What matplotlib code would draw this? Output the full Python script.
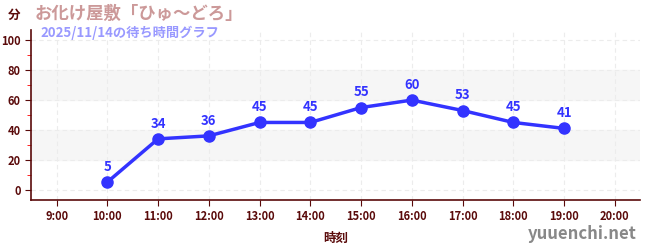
import numpy as np
import matplotlib
matplotlib.use("Agg")
import matplotlib.pyplot as plt
from matplotlib.ticker import MultipleLocator

plt.rcParams["font.family"] = ["Noto Sans CJK JP", "DejaVu Sans"]

hours = [10, 11, 12, 13, 14, 15, 16, 17, 18, 19]
waits = [5, 34, 36, 45, 45, 55, 60, 53, 45, 41]
tick_hours = list(range(9, 21))
tick_labels = ["%d:00" % h for h in tick_hours]

title = "お化け屋敷「ひゅ～どろ」"
subtitle = "2025/11/14の待ち時間グラフ"

axis_col = "#5a0a0a"
line_col = "#3333ff"

fig = plt.figure(figsize=(6.5, 2.5), dpi=100)
ax = fig.add_axes([0.048, 0.2, 0.937, 0.68])

ax.set_xlim(8.5, 20.5)
ax.set_ylim(-7, 107)

# gray bands
for lo, hi in [(20, 40), (60, 80)]:
    ax.axhspan(lo, hi, color="#f6f6f6", zorder=0)

ax.set_xticks(tick_hours)
ax.set_xticklabels(tick_labels)
ax.set_yticks([0, 20, 40, 60, 80, 100])
ax.yaxis.set_minor_locator(MultipleLocator(10))
ax.grid(True, which="major", color="#ececec", linestyle=(0, (4, 3)), linewidth=0.8, zorder=1)

ax.plot(hours, waits, color=line_col, linewidth=2.5, marker="o", markersize=8, zorder=3)
for h, w in zip(hours, waits):
    ax.annotate(str(w), (h, w), xytext=(0, 6), textcoords="offset points",
                ha="center", va="bottom", color=line_col, fontsize=9.5, fontweight="bold")

for s in ["top", "right"]:
    ax.spines[s].set_visible(False)
for s in ["left", "bottom"]:
    ax.spines[s].set_color(axis_col)
    ax.spines[s].set_linewidth(1.2)

ax.tick_params(axis="both", which="major", colors=axis_col, labelsize=8, length=4)
ax.tick_params(axis="y", which="minor", colors="red", length=3)
for lbl in ax.get_xticklabels() + ax.get_yticklabels():
    lbl.set_fontweight("bold")
    lbl.set_color(axis_col)

ax.set_xlabel("時刻", color=axis_col, fontsize=9, fontweight="bold", labelpad=6)

fig.text(0.022, 0.938, "分", color=axis_col, fontsize=9, fontweight="bold", ha="center", va="center")
fig.text(0.054, 0.945, title, color="#cc9999", fontsize=12.5, fontweight="bold", va="center")
fig.text(0.062, 0.868, subtitle, color="#9999ff", fontsize=9.5, fontweight="bold", va="center")
fig.text(0.98, 0.065, "yuuenchi.net", color="#888888", fontsize=12, fontweight="bold", ha="right", va="center")

fig.savefig("out.png", dpi=100)
